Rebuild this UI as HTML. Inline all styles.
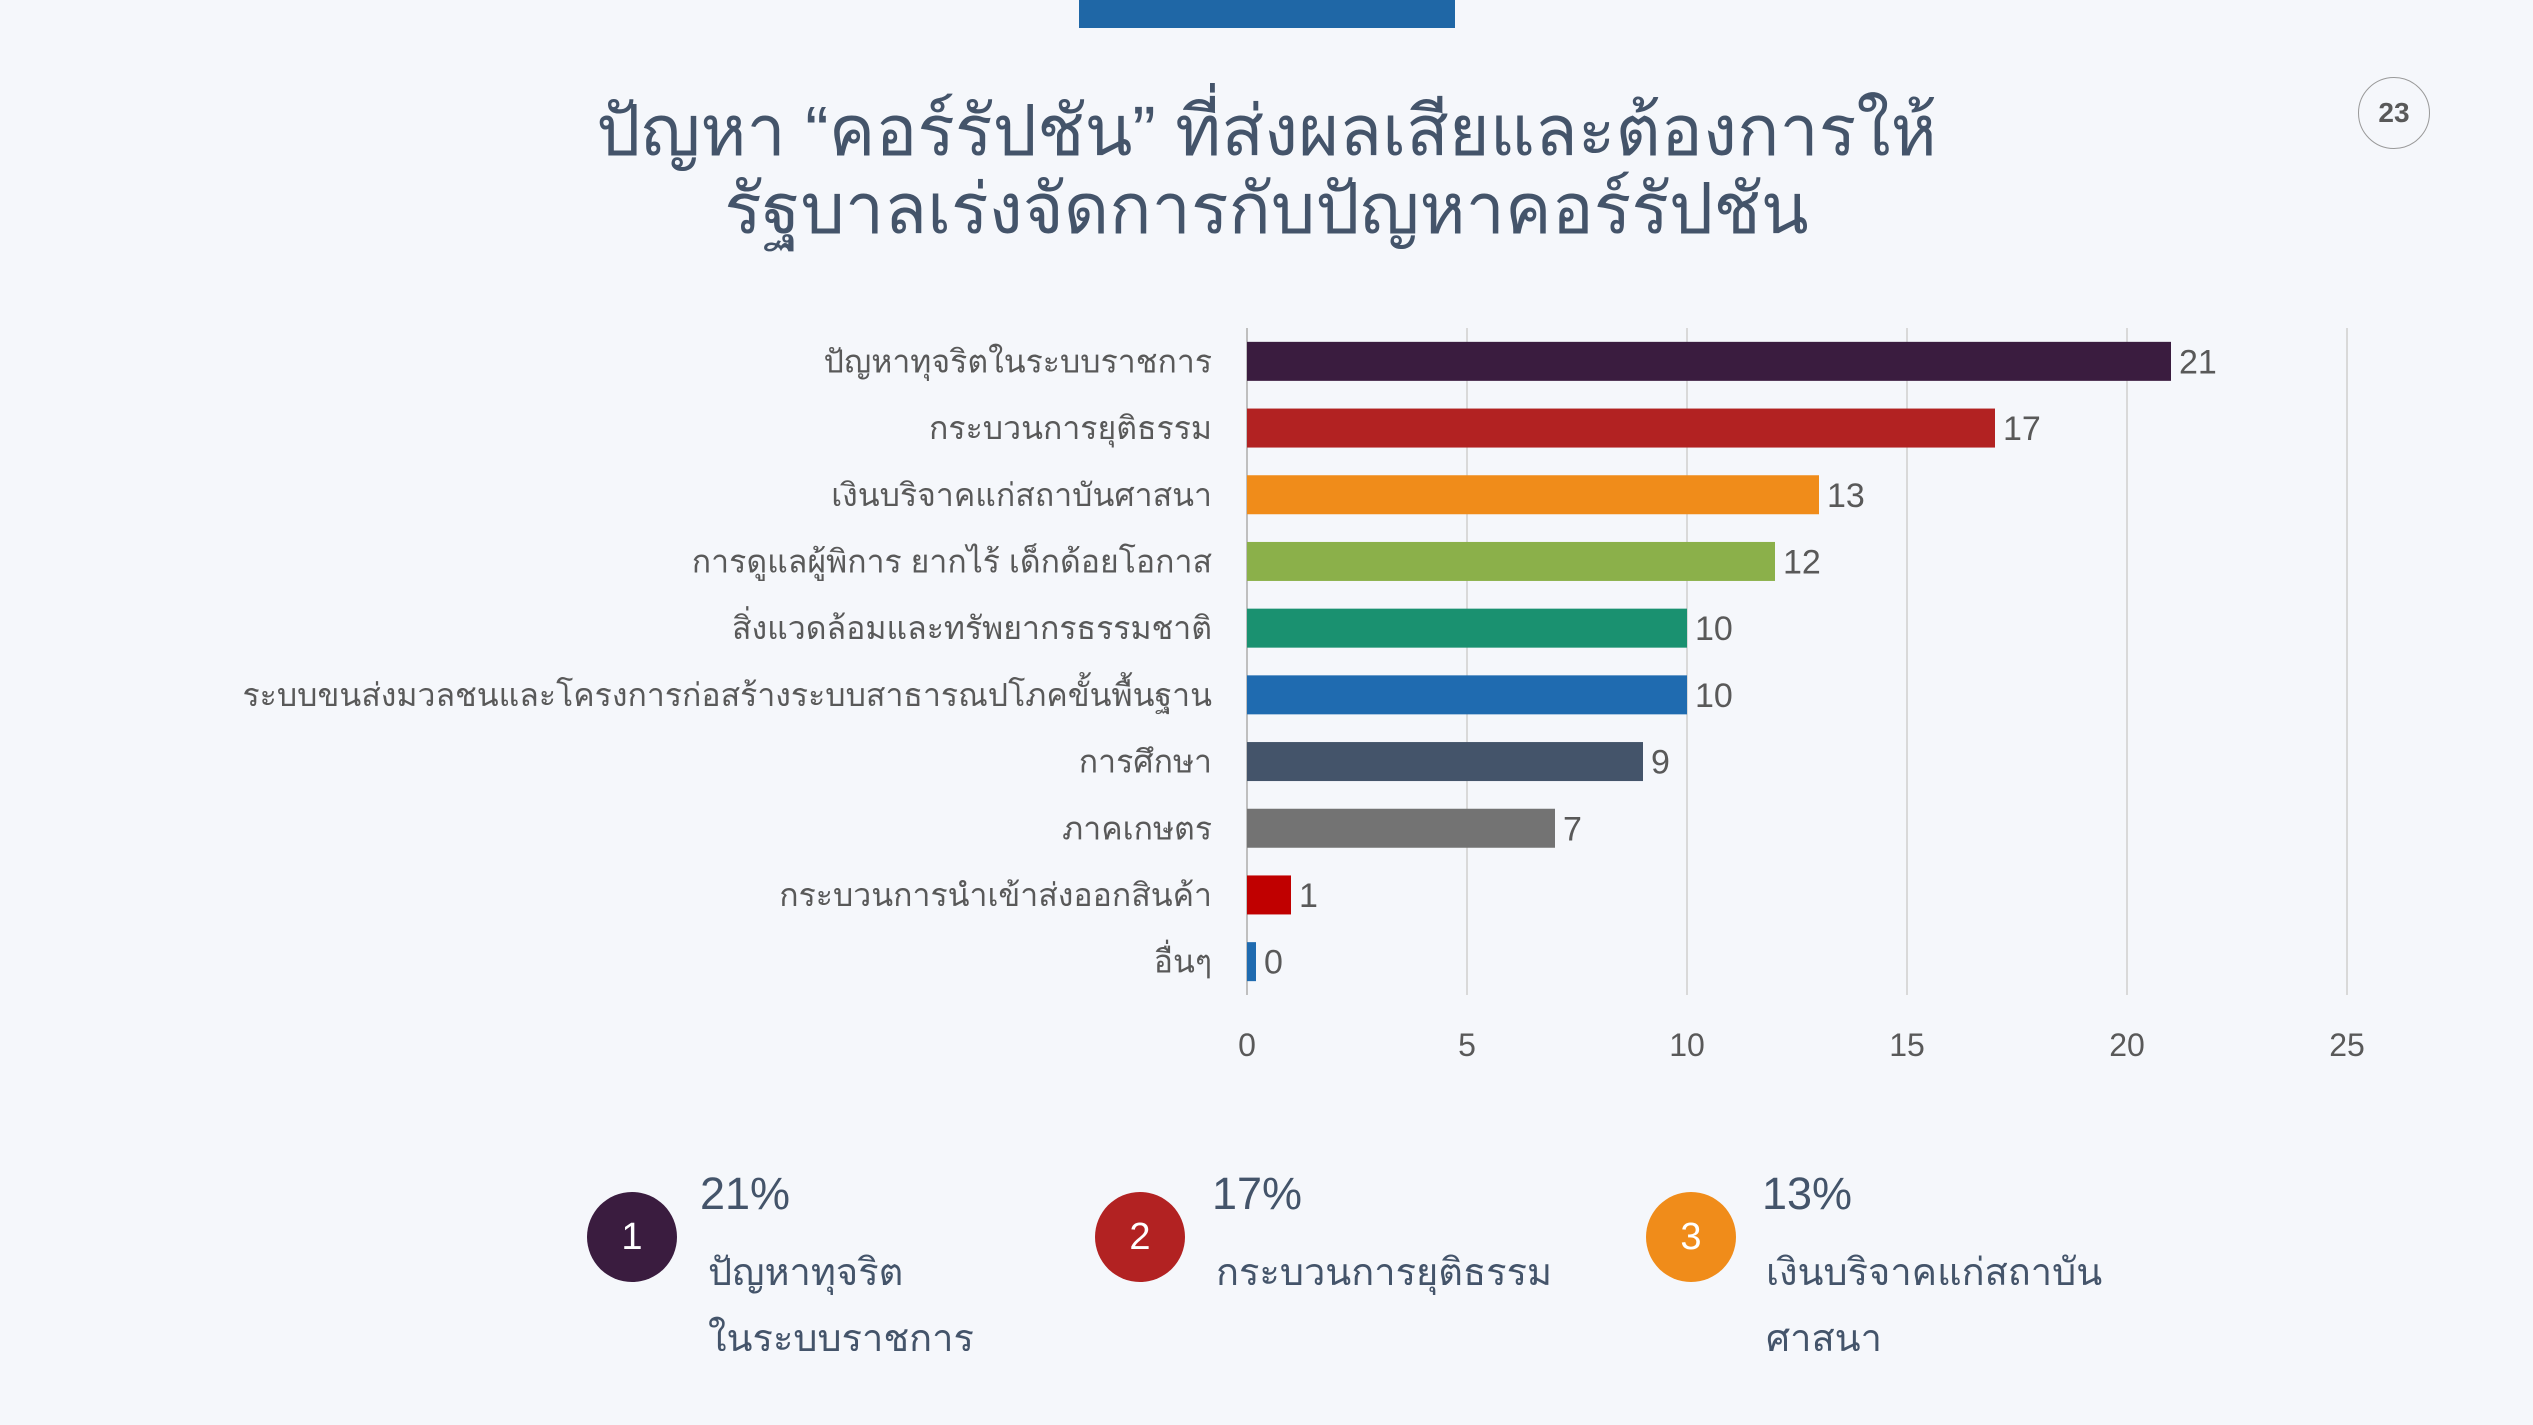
<!DOCTYPE html>
<html><head><meta charset="utf-8"><style>
body{margin:0;width:2533px;height:1425px;background:#f5f7fb;overflow:hidden;font-family:"Liberation Sans",sans-serif;position:relative}
.abs{position:absolute}
</style></head><body>
<div class="abs" style="left:1079px;top:0;width:376px;height:28px;background:#1f67a6"></div>
<div class="abs" style="left:0;width:2533px;top:92px;text-align:center;color:#44546a;font-size:70px;line-height:78px">ปัญหา “คอร์รัปชัน” ที่ส่งผลเสียและต้องการให้<br>รัฐบาลเร่งจัดการกับปัญหาคอร์รัปชัน</div>
<div class="abs" style="left:2358px;top:77px;width:70px;height:70px;border:1.5px solid #999;border-radius:50%;text-align:center;line-height:70px;font-size:28px;font-weight:bold;color:#595959">23</div>
<svg class="abs" style="left:0;top:0" width="2533" height="1425" id="chart"></svg>
<div>
<div class="abs" style="left:587px;top:1192px;width:90px;height:90px;border-radius:50%;background:#3a1c3f;color:#fff;font-size:38px;text-align:center;line-height:90px">1</div>
<div class="abs" style="left:700px;top:1168px;font-size:45px;color:#44546a">21%</div>
<div class="abs" style="left:708px;top:1240px;font-size:38px;line-height:66px;color:#44546a">ปัญหาทุจริต<br>ในระบบราชการ</div>
</div>
<div>
<div class="abs" style="left:1095px;top:1192px;width:90px;height:90px;border-radius:50%;background:#b22222;color:#fff;font-size:38px;text-align:center;line-height:90px">2</div>
<div class="abs" style="left:1212px;top:1168px;font-size:45px;color:#44546a">17%</div>
<div class="abs" style="left:1216px;top:1240px;font-size:38px;line-height:66px;color:#44546a">กระบวนการยุติธรรม</div>
</div>
<div>
<div class="abs" style="left:1646px;top:1192px;width:90px;height:90px;border-radius:50%;background:#f08c1a;color:#fff;font-size:38px;text-align:center;line-height:90px">3</div>
<div class="abs" style="left:1762px;top:1168px;font-size:45px;color:#44546a">13%</div>
<div class="abs" style="left:1766px;top:1240px;font-size:38px;line-height:66px;color:#44546a">เงินบริจาคแก่สถาบัน<br>ศาสนา</div>
</div>
<script>
const categories=["ปัญหาทุจริตในระบบราชการ","กระบวนการยุติธรรม","เงินบริจาคแก่สถาบันศาสนา","การดูแลผู้พิการ ยากไร้ เด็กด้อยโอกาส","สิ่งแวดล้อมและทรัพยากรธรรมชาติ","ระบบขนส่งมวลชนและโครงการก่อสร้างระบบสาธารณปโภคขั้นพื้นฐาน","การศึกษา","ภาคเกษตร","กระบวนการนำเข้าส่งออกสินค้า","อื่นๆ"];
const values=[21,17,13,12,10,10,9,7,1,0];
const barColors=["#3a1c3f","#b22222","#f08c1a","#8bb04a","#1a9170","#1f6bb0","#44546a","#737373","#c00000","#1f6bb0"];
const ticks=[0,5,10,15,20,25];
const NS="http://www.w3.org/2000/svg",svg=document.getElementById('chart');
const X0=1247,X1=2347,Y0=328,Y1=995,MAX=25;
const x=v=>X0+(v/MAX)*(X1-X0);
const band=(Y1-Y0)/categories.length;
const yc=i=>Y0+band*(i+0.5);
function mk(t,a,txt){const e=document.createElementNS(NS,t);for(const k in a)e.setAttribute(k,a[k]);if(txt!==undefined)e.textContent=txt;svg.appendChild(e);return e;}
ticks.forEach(t=>{
 const g=mk('line',{x1:x(t),x2:x(t),y1:Y0,y2:Y1,stroke:t===0?'#bfbfbf':'#d9d9d9','stroke-width':2});
 
 
 const l=mk('text',{x:x(t),y:1056,'text-anchor':'middle','font-size':32,fill:'#595959','font-family':'Liberation Sans, sans-serif'},t);
 
 
});
categories.forEach((c,i)=>{
 const h=39;
 const r=mk('rect',{x:X0,y:yc(i)-h/2,width:Math.max(x(values[i])-X0,9),height:h,fill:barColors[i]});
 
 
 const l=mk('text',{x:1212,y:yc(i)+11,'text-anchor':'end','font-size':32,fill:'#595959','font-family':'Liberation Sans, sans-serif'},c);
 
 
 const v=mk('text',{x:Math.max(x(values[i]),X0+9)+8,y:yc(i)+12,'font-size':34,fill:'#595959','font-family':'Liberation Sans, sans-serif'},values[i]);
 
 
});
</script>
</body></html>
